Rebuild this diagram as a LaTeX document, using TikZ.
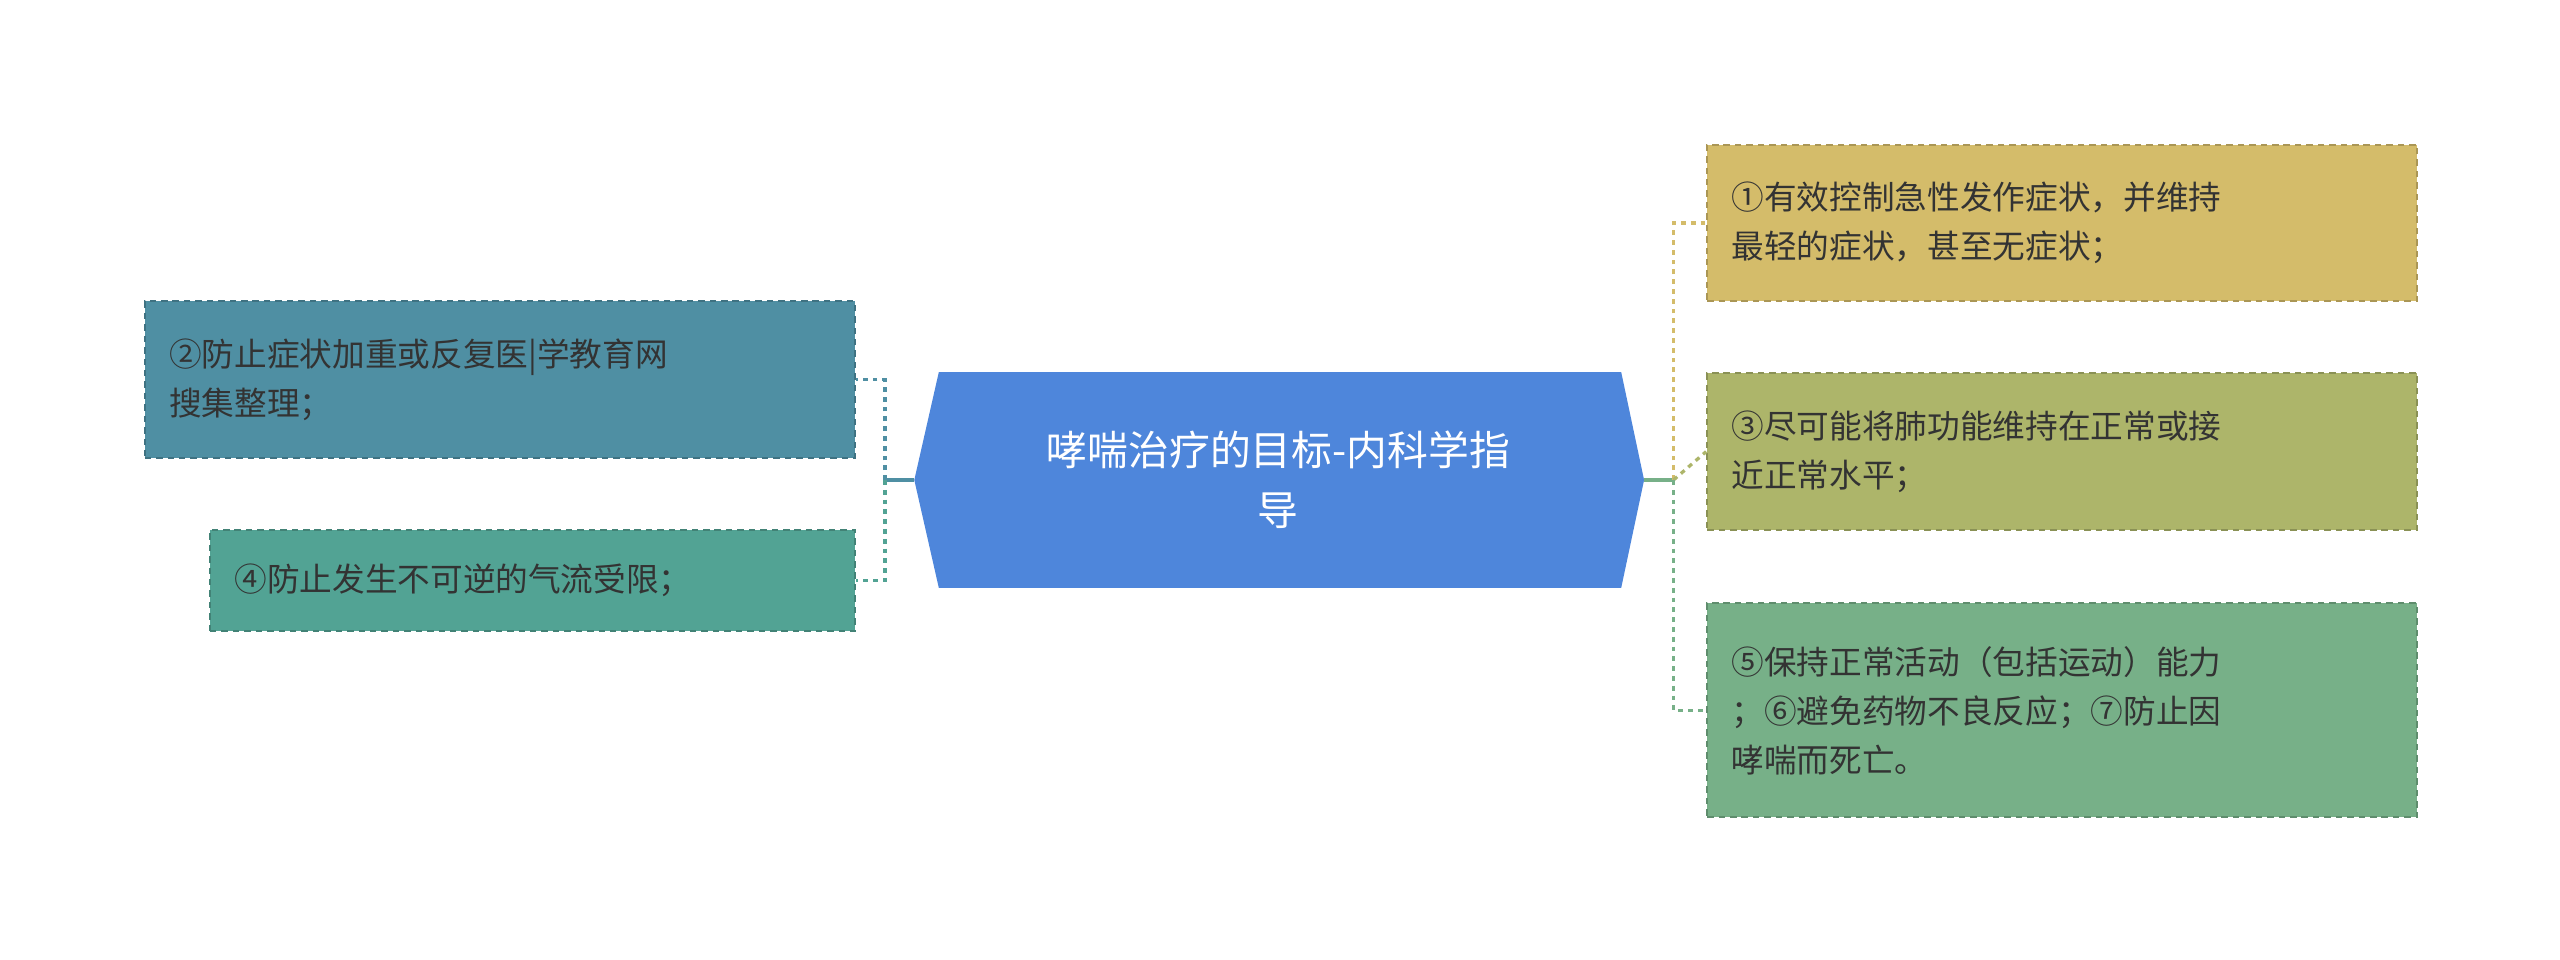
\documentclass[tikz,border=0pt]{standalone}
\usepackage{fontspec}
\setmainfont{Noto Sans CJK SC}
\usetikzlibrary{shapes.geometric}
\definecolor{cblue}{HTML}{4E86DB}
\definecolor{cteal}{HTML}{4F8FA3}
\definecolor{cgreen}{HTML}{52A394}
\definecolor{cgold}{HTML}{D4BC6A}
\definecolor{colive}{HTML}{ADB56A}
\definecolor{cmint}{HTML}{77B088}
\definecolor{ctext}{HTML}{333333}
\begin{document}
\begin{tikzpicture}[x=1pt,y=-1pt,
 leaf/.style={draw=#1!80!black,fill=#1,dashed,line width=1.2pt,dash pattern=on 4pt off 3pt,minimum width=435pt,text width=405pt,align=left,inner xsep=15pt,anchor=north west,font=\fontsize{20}{30}\selectfont,text=ctext},
 lnk/.style={line width=2pt,#1}]
\useasboundingbox (0,0) rectangle (1568,588);
\fill[cblue] (560,294) -- (575,228) -- (993,228) -- (1007,294) -- (993,360) -- (575,360) -- cycle;
\node[text=white,font=\fontsize{25}{37}\selectfont,align=center,text width=420pt] (c) at (783,294) {哮喘治疗的目标-内科学指\\导};
\coordinate (cl) at (560,294); \coordinate (cr) at (1007,294);
\node[leaf=cteal,minimum height=96pt] (l1) at (88,184) {②防止症状加重或反复医|学教育网\\搜集整理；};
\node[leaf=cgreen,minimum height=62pt,minimum width=395pt,text width=365pt] (l2) at (128,324) {④防止发生不可逆的气流受限；};
\node[leaf=cgold,minimum height=96pt] (r1) at (1045,88) {①有效控制急性发作症状，并维持\\最轻的症状，甚至无症状；};
\node[leaf=colive,minimum height=96pt] (r2) at (1045,228) {③尽可能将肺功能维持在正常或接\\近正常水平；};
\node[leaf=cmint,minimum height=131pt] (r3) at (1045,369) {⑤保持正常活动（包括运动）能力\\；⑥避免药物不良反应；⑦防止因\\哮喘而死亡。};
% left connectors
\draw[lnk=cteal] (cl) -- (542,294);
\draw[lnk=cteal,dashed] (542,294) |- (l1.east);
\draw[lnk=cgreen,dashed] (542,294) |- (l2.east);
% right connectors
\draw[lnk=cmint] (cr) -- (1025,294);
\draw[lnk=cgold,dashed] (1025,294) |- (r1.west);
\draw[lnk=colive,dashed] (1025,294) -- (r2.west);
\draw[lnk=cmint,dashed] (1025,294) |- (r3.west);
\end{tikzpicture}
\end{document}
